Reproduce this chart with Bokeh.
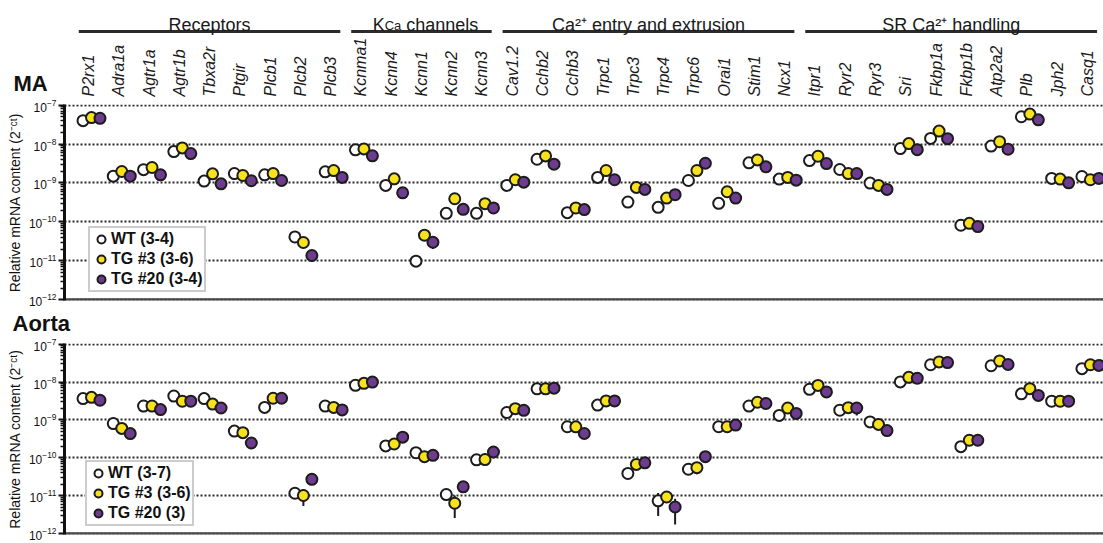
import math
from bokeh.plotting import figure
from bokeh.layouts import column
from bokeh.models import Range1d, ColumnDataSource, Legend, LegendItem, FixedTicker
from bokeh.core.properties import value
from bokeh.embed import file_html
from bokeh.resources import INLINE

# ---------------- data ----------------
genes = ["P2rx1", "Adra1a", "Agtr1a", "Agtr1b", "Tbxa2r", "Ptgir", "Plcb1", "Plcb2", "Plcb3",
         "Kcnma1", "Kcnn4", "Kcnn1", "Kcnn2", "Kcnn3",
         "Cav1.2", "Cchb2", "Cchb3", "Trpc1", "Trpc3", "Trpc4", "Trpc6", "Orai1", "Stim1", "Ncx1",
         "Itpr1", "Ryr2", "Ryr3", "Sri", "Fkbp1a", "Fkbp1b", "Atp2a2", "Plb", "Jph2", "Casq1"]
group_names = ["Receptors", "KCa channels", "Ca²⁺ entry and extrusion", "SR Ca²⁺ handling"]
group_sizes = [9, 5, 10, 10]

series = ["WT", "TG #3", "TG #20"]
ma_n = ["(3-4)", "(3-6)", "(3-4)"]
ao_n = ["(3-7)", "(3-6)", "(3)"]

ma_wt = [4.0e-8, 1.5e-9, 2.2e-9, 6.4e-9, 1.12e-9, 1.75e-9, 1.62e-9, 4.1e-11, 1.93e-9,
         7.1e-9, 8.65e-10, 9.8e-12, 1.66e-10, 1.66e-10,
         8.65e-10, 4.07e-9, 1.73e-10, 1.39e-9, 3.24e-10, 2.37e-10, 1.16e-9, 3.0e-10, 3.29e-9, 1.26e-9,
         3.77e-9, 2.22e-9, 9.93e-10, 7.64e-9, 1.4e-8, 8.2e-11, 8.9e-9, 5.03e-8, 1.31e-9, 1.47e-9]
ma_tg3 = [4.8e-8, 1.97e-9, 2.5e-9, 7.96e-9, 1.72e-9, 1.56e-9, 1.75e-9, 2.95e-11, 2.09e-9,
          7.5e-9, 1.28e-9, 4.55e-11, 3.94e-10, 2.94e-10,
          1.21e-9, 4.97e-9, 2.28e-10, 2.09e-9, 7.7e-10, 4.1e-10, 2.09e-9, 5.96e-10, 3.92e-9, 1.39e-9,
          4.86e-9, 1.75e-9, 8.65e-10, 1.03e-8, 2.16e-8, 9.2e-11, 1.15e-8, 5.89e-8, 1.26e-9, 1.21e-9]
ma_tg20 = [4.6e-8, 1.5e-9, 1.62e-9, 5.7e-9, 9.5e-10, 1.14e-9, 1.16e-9, 1.37e-11, 1.39e-9,
           5.0e-9, 5.6e-10, 3.0e-11, 2.1e-10, 2.28e-10,
           1.05e-9, 3.04e-9, 2.07e-10, 1.21e-9, 6.84e-10, 5.0e-10, 3.22e-9, 4.1e-10, 2.6e-9, 1.18e-9,
           3.16e-9, 1.75e-9, 6.84e-10, 7.2e-9, 1.38e-8, 7.6e-11, 7.35e-9, 4.2e-8, 1.01e-9, 1.31e-9]

ao_wt = [3.66e-9, 8.05e-10, 2.33e-9, 4.28e-9, 3.66e-9, 5.1e-10, 2.15e-9, 1.17e-11, 2.33e-9,
         8.22e-9, 2.07e-10, 1.37e-10, 1.08e-11, 8.9e-11,
         1.57e-9, 6.62e-9, 6.62e-10, 2.47e-9, 3.89e-11, 7.36e-12, 5.02e-11, 6.65e-10, 2.33e-9, 1.32e-9,
         6.45e-9, 1.81e-9, 8.9e-10, 1.01e-8, 2.86e-8, 1.98e-10, 2.69e-8, 4.9e-9, 3.13e-9, 2.26e-8]
ao_tg3 = [3.96e-9, 6.0e-10, 2.33e-9, 3.13e-9, 2.62e-9, 4.64e-10, 3.74e-9, 1.02e-11, 2.15e-9,
          9.25e-9, 2.33e-10, 1.08e-10, 6.36e-12, 9.06e-11,
          1.99e-9, 6.62e-9, 6.6e-10, 3.18e-9, 6.73e-11, 9.3e-12, 5.54e-11, 6.65e-10, 2.94e-9, 2.07e-9,
          8.17e-9, 2.11e-9, 7.63e-10, 1.33e-8, 3.4e-8, 2.92e-10, 3.61e-8, 6.7e-9, 3.13e-9, 2.86e-8]
ao_tg20 = [3.32e-9, 4.37e-10, 1.88e-9, 3.13e-9, 2.07e-9, 2.47e-10, 3.74e-9, 2.73e-11, 1.84e-9,
           1.0e-8, 3.52e-10, 1.17e-10, 1.73e-11, 1.43e-10,
           1.8e-9, 6.9e-9, 4.4e-10, 3.18e-9, 7.43e-11, 5.08e-12, 1.08e-10, 7.34e-10, 2.72e-9, 1.49e-9,
           5.5e-9, 2.07e-9, 5.26e-10, 1.26e-8, 3.27e-8, 2.92e-10, 2.91e-8, 4.45e-9, 3.13e-9, 2.75e-8]

# error bars that reach beyond the markers (mean +/- SEM limits)
err_panel = ["MA", "MA", "Aorta", "Aorta", "Aorta", "Aorta", "Aorta", "Aorta", "Aorta", "Aorta"]
err_gene = ["Plcb2", "Kcnn1", "Plcb2", "Kcnn2", "Kcnn2", "Trpc4", "Trpc4", "Trpc6", "Ryr2", "Jph2"]
err_series = ["TG #20", "TG #20", "TG #3", "TG #3", "TG #20", "WT", "TG #20", "TG #3", "TG #20", "TG #20"]
err_lo = [9.5e-12, 2.0e-11, 5.4e-12, 2.6e-12, 1.23e-11, 2.95e-12, 1.74e-12, 3.7e-11, 1.32e-9, 2.24e-9]
err_hi = [1.8e-11, 4.0e-11, 1.5e-11, 1.02e-11, 2.2e-11, 1.18e-11, 8.4e-12, 7.4e-11, 2.8e-9, 4.0e-9]

y_ticks = [1e-12, 1e-11, 1e-10, 1e-9, 1e-8, 1e-7]

# ---------------- style / layout ----------------
FONT = "Liberation Sans"
W = 1103
PX = 30.27           # pixels per category
X0 = 91              # canvas x of first category
LEFT = 64            # left border of the panels (frame start)
XE = (W - X0) / PX
XS = (LEFT - X0) / PX
XS_H = (0 - X0) / PX
OFFS = {"WT": -0.28, "TG #3": 0.0, "TG #20": 0.28}
FILLS = {"WT": "#ffffff", "TG #3": "#f7e21b", "TG #20": "#6d3c8f"}
EDGE = "#1c1c1c"
Y_LO = 10 ** -12.02

idx = list(range(len(genes)))
minor = [m * 10.0 ** e for e in range(-12, -7) for m in range(2, 10)]


def blank(h):
    f = figure(width=W, height=h, x_range=Range1d(XS_H, XE), y_range=Range1d(0, h),
               x_axis_location=None, y_axis_location=None, frame_align=False,
               min_border=0, min_border_left=0, min_border_right=0, min_border_top=0, min_border_bottom=0,
               output_backend="svg", toolbar_location=None)
    f.grid.visible = False
    f.outline_line_color = None
    return f


# ---------------- header ----------------
HH = 97
hdr = blank(HH)

gstart, gend = [], []
s = 0
for n in group_sizes:
    gstart.append(s - 0.42)
    gend.append(s + n - 1 + 0.22)
    s += n
hdr.segment(x0=gstart, x1=gend, y0=[66] * 4, y1=[66] * 4, line_width=3, line_color="#2b2b2b")

base_y = 72.5
for name, a, b in zip(group_names, gstart, gend):
    c = (a + b) / 2
    if name.startswith("KCa"):
        total = 105.6 / PX
        x0 = c - total / 2 + 4 / PX
        hdr.text(x=[x0], y=[base_y], text=["K"], text_align="left", text_baseline="alphabetic",
                 text_font=value(FONT), text_font_size="18px", text_color="#1a1a1a")
        hdr.text(x=[x0 + 12.0 / PX], y=[base_y], text=["Ca"], text_align="left", text_baseline="alphabetic",
                 text_font=value(FONT), text_font_size="13px", text_color="#1a1a1a")
        hdr.text(x=[x0 + 33.6 / PX], y=[base_y], text=[name.split(" ", 1)[1]], text_align="left",
                 text_baseline="alphabetic", text_font=value(FONT), text_font_size="18px", text_color="#1a1a1a")
    else:
        hdr.text(x=[c], y=[base_y], text=[name], text_align="center", text_baseline="alphabetic",
                 text_font=value(FONT), text_font_size="18px", text_color="#1a1a1a")

hdr.text(x=[i - 0.1 for i in idx], y=[1] * len(idx), text=genes, angle=math.pi / 2,
         text_align="left", text_baseline="middle", text_font=value(FONT),
         text_font_style="italic", text_font_size="16px", text_color="#1a1a1a")
hdr.text(x=[XS_H + 13 / PX], y=[14], text=["MA"], text_align="left", text_baseline="middle",
         text_font=value(FONT), text_font_style="bold", text_font_size="22px", text_color="#111111")


def panel(vals, ns, pname, legend_loc, height, top, bottom):
    p = figure(width=W, height=height, min_border_left=LEFT, min_border_right=0,
               min_border_top=top, min_border_bottom=bottom,
               x_range=Range1d(XS, XE), y_range=Range1d(Y_LO, 1.04e-7), y_axis_type="log",
               x_axis_location=None, frame_align=False,
               output_backend="svg", toolbar_location=None)
    p.outline_line_color = None
    p.xgrid.visible = False
    yt = FixedTicker(ticks=y_ticks, minor_ticks=minor)
    p.yaxis.ticker = yt
    p.ygrid.ticker = yt
    p.ygrid.grid_line_color = "#2a2a2a"
    p.ygrid.grid_line_dash = "2 2"
    p.ygrid.grid_line_width = 1.8

    # bottom axis line (x axis without ticks)
    p.segment(x0=[XS], x1=[XE], y0=[1e-12], y1=[1e-12], line_width=3, line_color="#4a4a4a")

    ya = p.yaxis[0]
    ya.axis_line_width = 3
    ya.axis_line_color = "#111111"
    ya.major_tick_line_color = "#111111"
    ya.major_tick_line_width = 2
    ya.major_tick_out = 6
    ya.major_tick_in = 0
    ya.minor_tick_line_color = "#111111"
    ya.minor_tick_line_width = 1.5
    ya.minor_tick_out = 4
    ya.minor_tick_in = 0
    ya.major_label_text_font = FONT
    ya.major_label_text_font_size = "12px"
    ya.major_label_text_color = "#111111"
    ya.major_label_standoff = 2
    ya.axis_label = "Relative mRNA content (2⁻ᶜᵗ)"
    ya.axis_label_text_font = FONT
    ya.axis_label_text_font_style = "normal"
    ya.axis_label_text_font_size = "14px"
    ya.axis_label_text_color = "#111111"
    ya.axis_label_standoff = 3

    # error bars
    ex, elo, ehi = [], [], []
    for pn, g, sname, lo, hi in zip(err_panel, err_gene, err_series, err_lo, err_hi):
        if pn == pname:
            ex.append(genes.index(g) + OFFS[sname])
            elo.append(lo)
            ehi.append(hi)
    if ex:
        p.segment(x0=ex, x1=ex, y0=elo, y1=ehi, line_width=2, line_color=EDGE)

    items = []
    for sname, v, n in zip(series, vals, ns):
        src = ColumnDataSource(dict(x=[i + OFFS[sname] for i in idx], y=v, gene=genes))
        r = p.scatter(x="x", y="y", source=src, size=11, fill_color=FILLS[sname],
                      line_color=EDGE, line_width=2)
        items.append(LegendItem(label=f"{sname} {n}", renderers=[r]))

    lg = Legend(items=items, location=legend_loc, border_line_color="#9a9a9a", border_line_width=2.5,
                background_fill_color="white", background_fill_alpha=1.0,
                label_text_font=FONT, label_text_font_style="bold", label_text_font_size="16px",
                label_text_color="#111111", glyph_width=20, glyph_height=20, label_height=16,
                label_standoff=0, spacing=0, padding=1, margin=0)
    p.add_layout(lg)
    return p


p_ma = panel([ma_wt, ma_tg3, ma_tg20], ma_n, "MA", (24, 8), 212, 7, 9)

hdr2 = blank(27)
hdr2.text(x=[XS_H + 12 / PX], y=[13], text=["Aorta"], text_align="left", text_baseline="middle",
          text_font=value(FONT), text_font_style="bold", text_font_size="22px", text_color="#111111")

p_ao = panel([ao_wt, ao_tg3, ao_tg20], ao_n, "Aorta", (21, 8), 207, 7, 9)

layout = column(hdr, p_ma, hdr2, p_ao, spacing=0)
open("out.html", "w").write(file_html(layout, INLINE))
